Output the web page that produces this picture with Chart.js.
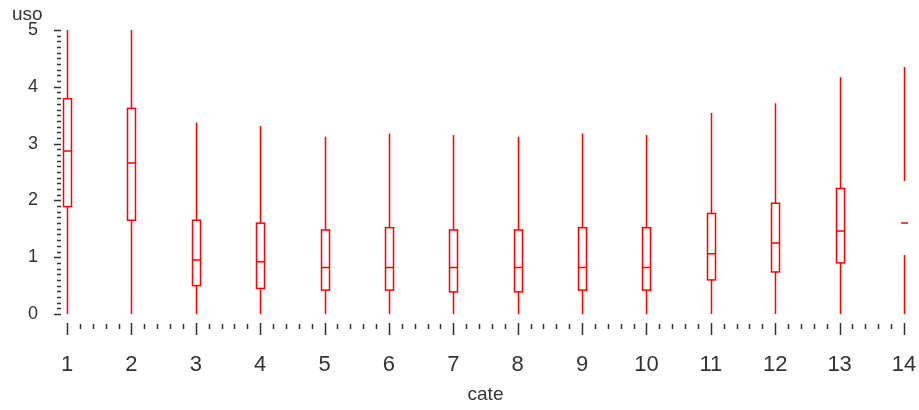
<!DOCTYPE html>
<html>
<head>
<meta charset="utf-8">
<script src="https://cdn.jsdelivr.net/npm/chart.js@4/dist/chart.umd.min.js"></script>
<style>
  html, body { margin: 0; padding: 0; background: #fff; }
  #wrap { width: 919px; height: 410px; }
</style>
</head>
<body>
<div id="wrap"><canvas id="box" width="919" height="410"></canvas></div>
<script>
// box plot of uso by cate
const categories = [1, 2, 3, 4, 5, 6, 7, 8, 9, 10, 11, 12, 13, 14];
const lowVals = [0, 0, 0, 0, 0, 0, 0, 0, 0, 0, 0, 0, 0, 0];
const q1Vals = [1.89, 1.65, 0.50, 0.45, 0.42, 0.42, 0.39, 0.39, 0.42, 0.42, 0.60, 0.74, 0.90, 1.04];
const medVals = [2.87, 2.66, 0.95, 0.92, 0.82, 0.82, 0.82, 0.82, 0.82, 0.82, 1.06, 1.25, 1.46, 1.60];
const q3Vals = [3.79, 3.62, 1.65, 1.60, 1.48, 1.52, 1.48, 1.48, 1.52, 1.52, 1.77, 1.95, 2.21, 2.34];
const highVals = [5, 5, 3.37, 3.31, 3.12, 3.18, 3.15, 3.12, 3.18, 3.15, 3.54, 3.71, 4.17, 4.35];
// last category: box outline not shown in the original
const hasBox = [true, true, true, true, true, true, true, true, true, true, true, true, true, false];

const xTitle = "cate";
const yTitle = "uso";

const RED = "#ff0000";
const INK = "#333";

const boxPlugin = {
  id: "boxes",
  afterDatasetsDraw: function(chart) {
    const ctx = chart.ctx;
    const x = chart.scales.x;
    const y = chart.scales.y;
    const half = 4;
    ctx.save();
    ctx.strokeStyle = RED;
    ctx.lineWidth = 1.5;
    categories.forEach(function(c, i) {
      const px = Math.round(x.getPixelForValue(c)) + 0.5;
      const yLo = y.getPixelForValue(lowVals[i]);
      const yQ1 = y.getPixelForValue(q1Vals[i]);
      const yMed = y.getPixelForValue(medVals[i]);
      const yQ3 = y.getPixelForValue(q3Vals[i]);
      const yHi = y.getPixelForValue(highVals[i]);
      ctx.beginPath();
      ctx.moveTo(px, yLo); ctx.lineTo(px, yQ1);
      ctx.moveTo(px, yQ3); ctx.lineTo(px, yHi);
      ctx.moveTo(px - half + 0.5, yMed); ctx.lineTo(px + half - 0.5, yMed);
      ctx.stroke();
      if (hasBox[i]) {
        ctx.strokeRect(px - half, yQ3, half * 2, yQ1 - yQ3);
      }
    });
    ctx.restore();
  }
};

// SAS style tick marks with minor ticks, plus the vertical axis label
const tickPlugin = {
  id: "ticks",
  afterDraw: function(chart) {
    const ctx = chart.ctx;
    const x = chart.scales.x;
    const y = chart.scales.y;
    const area = chart.chartArea;
    ctx.save();
    ctx.strokeStyle = INK;
    ctx.lineWidth = 1.5;
    ctx.beginPath();
    for (let k = 0; k <= 50; k++) {
      const py = Math.round(y.getPixelForValue(k / 10)) + 0.5;
      const major = k % 10 === 0;
      ctx.moveTo(area.left - (major ? 13 : 10), py);
      ctx.lineTo(area.left - 6, py);
    }
    for (let k = 0; k <= 65; k++) {
      const px = Math.round(x.getPixelForValue(1 + k * 0.2)) + 0.5;
      const major = k % 5 === 0;
      ctx.moveTo(px, area.bottom + (major ? 9 : 10));
      ctx.lineTo(px, area.bottom + (major ? 21 : 15));
    }
    ctx.stroke();
    ctx.fillStyle = INK;
    ctx.font = "19px 'Liberation Sans'";
    ctx.textBaseline = "middle";
    ctx.textAlign = "left";
    ctx.fillText(yTitle, 12, 15);
    ctx.restore();
  }
};

new Chart(document.getElementById("box"), {
  type: "scatter",
  data: {
    datasets: [{
      label: yTitle,
      data: categories.map(function(c, i) { return { x: c, y: medVals[i] }; }),
      pointRadius: 0,
      showLine: false
    }]
  },
  options: {
    responsive: false,
    animation: false,
    devicePixelRatio: 1,
    layout: { padding: { top: 30, right: 15, left: 0, bottom: 0 } },
    plugins: {
      legend: { display: false },
      tooltip: { enabled: false }
    },
    scales: {
      x: {
        type: "linear",
        min: 1,
        max: 14,
        grid: { display: false },
        border: { display: false },
        ticks: {
          stepSize: 1,
          color: INK,
          padding: 30,
          maxRotation: 0,
          font: { family: "'Liberation Sans Narrow', 'Liberation Sans'", size: 22 }
        },
        title: {
          display: true,
          text: xTitle,
          color: INK,
          padding: { top: 0, bottom: 4 },
          font: { family: "'Liberation Sans'", size: 19 }
        },
        afterFit: function(scale) {
          scale.height = 96;
          scale.paddingLeft = 0;
          scale.paddingRight = 0;
        }
      },
      y: {
        min: 0,
        max: 5,
        grid: { display: false },
        border: { display: false },
        ticks: {
          stepSize: 1,
          color: INK,
          padding: 21,
          font: { family: "'Liberation Sans'", size: 18 }
        },
        afterFit: function(scale) {
          scale.width = 67;
          scale.paddingTop = 0;
          scale.paddingBottom = 0;
        }
      }
    }
  },
  plugins: [boxPlugin, tickPlugin]
});
</script>
</body>
</html>
